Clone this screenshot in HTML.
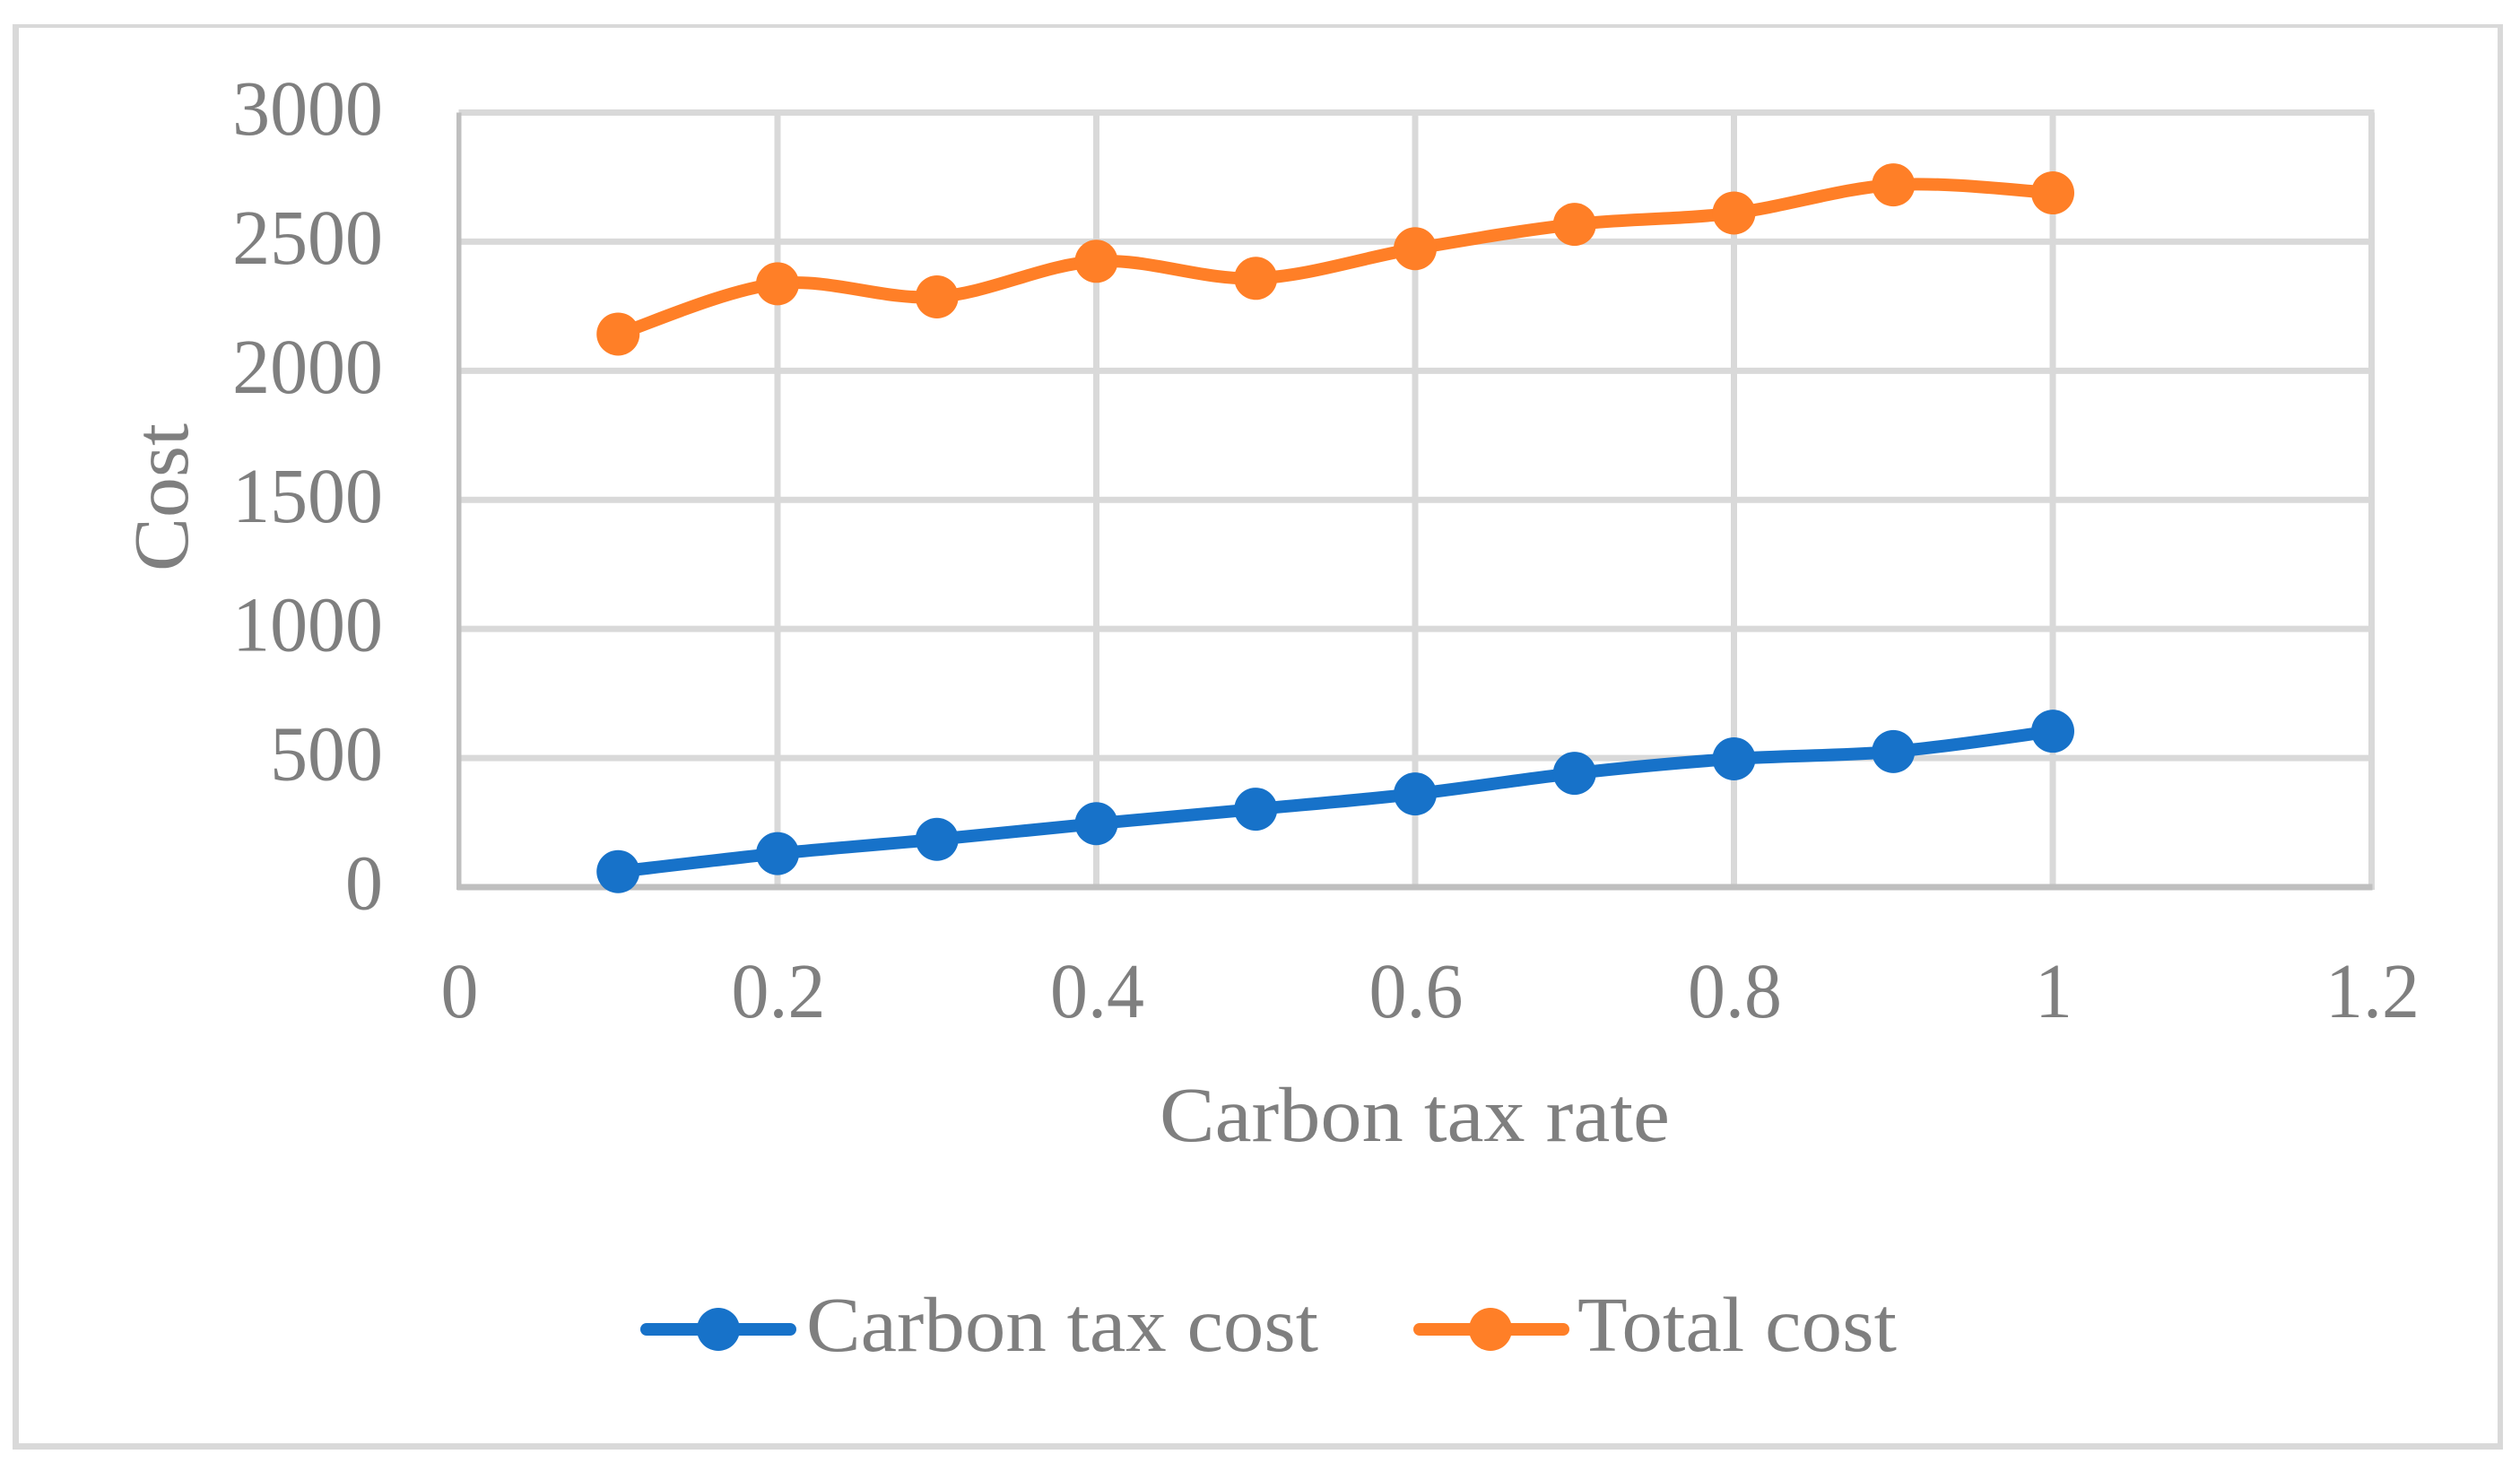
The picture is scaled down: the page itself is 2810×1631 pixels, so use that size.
<!DOCTYPE html>
<html lang="en">
<head>
<meta charset="utf-8">
<title>Carbon tax rate vs cost</title>
<style>
  html, body { margin: 0; padding: 0; background: #fff; }
  body { width: 2810px; height: 1631px; overflow: hidden; }
  svg { display: block; }
  text { font-family: "Liberation Serif", serif; font-size: 87px; fill: #7f7f7f; }
</style>
</head>
<body>
<svg id="chart" xmlns="http://www.w3.org/2000/svg" width="2810" height="1631" viewBox="0 0 2810 1631">
  <rect x="0" y="0" width="2810" height="1631" fill="#ffffff"/>
  <g fill="#d9d9d9">
    <rect x="14" y="27" width="2777" height="4"/>
    <rect x="14" y="1609" width="2777" height="7"/>
    <rect x="14" y="27" width="7" height="1589"/>
    <rect x="2785" y="27" width="6" height="1589"/>
  </g>
  <g id="grid"></g>
  <g id="axes"></g>
  <g id="ticks"></g>
  <g id="series"></g>
  <text x="1293" y="1272" textLength="569" lengthAdjust="spacingAndGlyphs">Carbon tax rate</text>
  <text transform="translate(209,637) rotate(-90)" textLength="165" lengthAdjust="spacingAndGlyphs">Cost</text>
  <g>
    <g>
      <line x1="721" y1="1482" x2="881" y2="1482" stroke="#1772c9" stroke-width="14" stroke-linecap="round"/>
      <circle cx="801" cy="1482" r="24" fill="#1772c9"/>
      <text x="899" y="1506" textLength="571" lengthAdjust="spacingAndGlyphs">Carbon tax cost</text>
    </g>
    <g>
      <line x1="1583" y1="1482" x2="1743" y2="1482" stroke="#ff7f27" stroke-width="14" stroke-linecap="round"/>
      <circle cx="1662" cy="1482" r="24" fill="#ff7f27"/>
      <text x="1759" y="1506" textLength="356" lengthAdjust="spacingAndGlyphs">Total cost</text>
    </g>
  </g>
</svg>
<script>
const xCategories = [0.1, 0.2, 0.3, 0.4, 0.5, 0.6, 0.7, 0.8, 0.9, 1];
const carbonTaxCost = [60, 130, 185, 246, 302, 361, 441, 497, 525, 604];
const totalCost = [2142, 2337, 2286, 2424, 2358, 2473, 2567, 2611, 2720, 2689];
const xTickValues = [0, 0.2, 0.4, 0.6, 0.8, 1, 1.2];
const yTickValues = [0, 500, 1000, 1500, 2000, 2500, 3000];

const NS = 'http://www.w3.org/2000/svg';
const PLOT = { left: 511.5, right: 2644.5, top: 125.5, bottom: 989 };
const xMax = 1.2, yMax = 3000;
function xScale(v) { return PLOT.left + (v / xMax) * (PLOT.right - PLOT.left); }
function yScale(v) { return PLOT.bottom - (v / yMax) * (PLOT.bottom - PLOT.top); }

function make(parent, tag, attrs) {
  const el = document.createElementNS(NS, tag);
  for (const k in attrs) el.setAttribute(k, attrs[k]);
  parent.appendChild(el);
  return el;
}

const grid = document.getElementById('grid');
const axes = document.getElementById('axes');
const ticks = document.getElementById('ticks');
const seriesLayer = document.getElementById('series');

yTickValues.forEach(function (v) {
  if (v !== 0) {
    const g = make(grid, 'line', { x1: PLOT.left, x2: PLOT.right + 3, y1: yScale(v), y2: yScale(v), stroke: '#d9d9d9', 'stroke-width': 7 });
    
    
  }
  const t = make(ticks, 'text', { transform: 'translate(427,' + (yScale(v) + 24.5) + ') scale(0.965,1)', 'text-anchor': 'end' });
  t.textContent = String(v);
  
  
});

xTickValues.forEach(function (v) {
  if (v !== 0) {
    const g = make(grid, 'line', { x1: xScale(v), x2: xScale(v), y1: PLOT.top, y2: PLOT.bottom + 3, stroke: '#d9d9d9', 'stroke-width': 7 });
    
    
  }
  const t = make(ticks, 'text', { transform: 'translate(' + (xScale(v) + 1) + ',1134) scale(0.965,1)', 'text-anchor': 'middle' });
  t.textContent = String(v);
  
  
});

const yAxisLine = make(axes, 'rect', { x: 509, y: PLOT.top, width: 5.5, height: PLOT.bottom + 3 - PLOT.top, fill: '#bfbfbf' });


const xAxisLine = make(axes, 'rect', { x: 510, y: PLOT.bottom - 3.5, width: PLOT.right + 1 - 510, height: 7, fill: '#bfbfbf' });



function smoothPath(xs, ys) {
  const pts = xs.map(function (x, i) { return [xScale(x), yScale(ys[i])]; });
  let d = 'M' + pts[0][0] + ' ' + pts[0][1];
  for (let i = 0; i < pts.length - 1; i++) {
    const p0 = pts[Math.max(0, i - 1)], p1 = pts[i], p2 = pts[i + 1], p3 = pts[Math.min(pts.length - 1, i + 2)];
    const c1x = p1[0] + (p2[0] - p0[0]) / 6, c1y = p1[1] + (p2[1] - p0[1]) / 6;
    const c2x = p2[0] - (p3[0] - p1[0]) / 6, c2y = p2[1] - (p3[1] - p1[1]) / 6;
    d += ' C' + c1x + ' ' + c1y + ' ' + c2x + ' ' + c2y + ' ' + p2[0] + ' ' + p2[1];
  }
  return d;
}

function drawSeries(values, color, slug) {
  const path = make(seriesLayer, 'path', { d: smoothPath(xCategories, values), fill: 'none', stroke: color, 'stroke-width': 14, 'stroke-linecap': 'round', 'stroke-linejoin': 'round' });
  
  
  values.forEach(function (v, i) {
    const c = make(seriesLayer, 'circle', { cx: xScale(xCategories[i]), cy: yScale(v), r: 24, fill: color });
    
    
  });
}

drawSeries(carbonTaxCost, '#1772c9', 'carbon-tax-cost');
drawSeries(totalCost, '#ff7f27', 'total-cost');
</script>
</body>
</html>
